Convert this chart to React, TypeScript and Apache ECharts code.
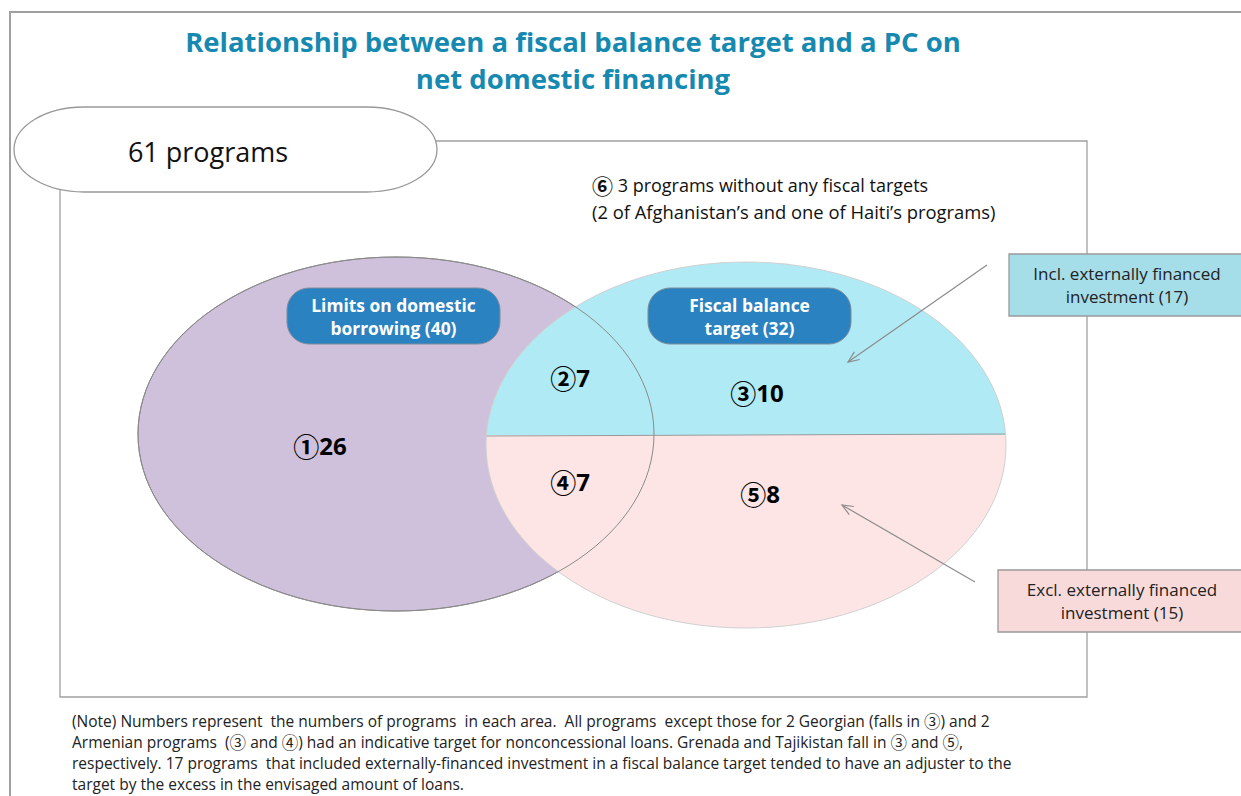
import React, { useEffect, useRef } from "react";
import * as echarts from "echarts";

// ---- data ----
const titleLines = ["Relationship between a fiscal balance target and a PC on", "net domestic financing"];
const totalPrograms = 61;
const regionMarks = ["①", "②", "③", "④", "⑤"];
const regionCounts = [26, 7, 10, 7, 8];
const setNames = ["Limits on domestic\nborrowing", "Fiscal balance\ntarget"];
const setTotals = [40, 32];
const subsetNames = ["Incl. externally financed\ninvestment", "Excl. externally financed\ninvestment"];
const subsetTotals = [17, 15];
const noTargetMark = "⑥";
const noTargetCount = 3;
const noTargetDetail = "(2 of Afghanistan’s and one of Haiti’s programs)";
const noteLines = [
  "(Note) Numbers represent  the numbers of programs  in each area.  All programs  except those for 2 Georgian (falls in ③) and 2",
  "Armenian programs  (③ and ④) had an indicative target for nonconcessional loans. Grenada and Tajikistan fall in ③ and ⑤,",
  "respectively. 17 programs  that included externally-financed investment in a fiscal balance target tended to have an adjuster to the",
  "target by the excess in the envisaged amount of loans.",
];

// ---- geometry (layout only) ----
const LEFT = { cx: 396, cy: 434, rx: 258, ry: 177 };
const RIGHT = { cx: 746, cy: 445, rx: 260, ry: 183 };
const SPLIT_Y = 435;
const PILL = { x1: 14, x2: 437, y1: 107, y2: 192, erx: 70 };

function halfPaths() {
  const { cx, cy, rx, ry } = RIGHT;
  const dy = SPLIT_Y - cy;
  const dx = rx * Math.sqrt(1 - (dy * dy) / (ry * ry));
  const l = cx - dx;
  const r = cx + dx;
  const top = `M${l},${SPLIT_Y} A${rx},${ry} 0 0 1 ${r},${SPLIT_Y} Z`;
  const bottom = `M${l},${SPLIT_Y} A${rx},${ry} 0 1 0 ${r},${SPLIT_Y} Z`;
  return { top, bottom };
}

function pillPath() {
  const { x1, x2, y1, y2, erx } = PILL;
  const ry = (y2 - y1) / 2;
  return `M${x1 + erx},${y1} L${x2 - erx},${y1} A${erx},${ry} 0 0 1 ${x2 - erx},${y2} L${x1 + erx},${y2} A${erx},${ry} 0 0 1 ${x1 + erx},${y1} Z`;
}

let registered = false;
function registerShapes() {
  if (registered) return;
  registered = true;
  const hp = halfPaths();
  echarts.graphic.registerShape("halfTop", echarts.graphic.extendPath(hp.top, {}));
  echarts.graphic.registerShape("halfBottom", echarts.graphic.extendPath(hp.bottom, {}));
  echarts.graphic.registerShape("pill", echarts.graphic.extendPath(pillPath(), {}));
}

function arrow(x1: number, y1: number, x2: number, y2: number) {
  const ang = Math.atan2(y2 - y1, x2 - x1);
  const len = 12;
  const spread = 0.4;
  const a1 = [x2 - len * Math.cos(ang - spread), y2 - len * Math.sin(ang - spread)];
  const a2 = [x2 - len * Math.cos(ang + spread), y2 - len * Math.sin(ang + spread)];
  const st = { stroke: "#8c8c8c", lineWidth: 1.2, fill: null as any };
  return [
    { type: "line", shape: { x1, y1, x2, y2 }, style: st, z: 20 },
    { type: "polyline", shape: { points: [a1, [x2, y2], a2] }, style: st, z: 20 },
  ];
}

const FONT = "'Open Sans', 'Noto Sans', sans-serif";
const CJK = "'Noto Sans CJK JP', 'Noto Sans CJK SC', sans-serif";
const CIRCLED = /([①②③④⑤⑥])/;

function toRich(s: string) {
  return s
    .split(CIRCLED)
    .filter((p) => p.length > 0)
    .map((p) => (CIRCLED.test(p) ? `{c|${p}}` : `{t|${p}}`))
    .join("");
}

function buildOption() {
  const g: any[] = [];
  // outer frame
  g.push({ type: "polyline", shape: { points: [[10, 800], [10, 12], [1245, 12]] }, style: { stroke: "#a0a0a0", lineWidth: 2, fill: null }, z: 1 });
  // inner frame
  g.push({ type: "rect", shape: { x: 60, y: 141, width: 1027, height: 556 }, style: { fill: "#fff", stroke: "#a0a0a0", lineWidth: 1.3 }, z: 2 });
  // pill
  g.push({ type: "pill", x: 0, y: 0, style: { fill: "#fff", stroke: "#999", lineWidth: 1.3 }, z: 3 });
  g.push({ type: "text", x: 208, y: 151, style: { text: `${totalPrograms} programs`, fill: "#111", fontSize: 27, fontFamily: FONT, align: "center", verticalAlign: "middle" }, z: 4 });
  // title
  titleLines.forEach((t, i) => {
    g.push({ type: "text", x: 573, y: 41.5 + i * 37, style: { text: t, fill: "#1689b1", fontSize: 27.5, fontWeight: "bold", fontFamily: FONT, align: "center", verticalAlign: "middle" }, z: 5 });
  });
  // no target note
  g.push({
    type: "text", x: 592, y: 185,
    style: {
      text: `{c|${noTargetMark}}{t| ${noTargetCount} programs without any fiscal targets}`,
      align: "left", verticalAlign: "middle",
      rich: {
        c: { fontSize: 21, fontWeight: "bold", fontFamily: CJK, fill: "#111" },
        t: { fontSize: 18, fontFamily: FONT, fill: "#111" },
      },
    }, z: 5,
  });
  g.push({ type: "text", x: 592, y: 211, style: { text: noTargetDetail, fill: "#111", fontSize: 18.4, fontFamily: FONT, align: "left", verticalAlign: "middle" }, z: 5 });
  // ellipses
  g.push({ type: "ellipse", shape: { cx: LEFT.cx, cy: LEFT.cy, rx: LEFT.rx, ry: LEFT.ry }, style: { fill: "#cfc1db", stroke: "#8a8a8a", lineWidth: 1 }, z: 6 });
  g.push({ type: "halfTop", x: 0, y: 0, style: { fill: "#b0eaf4", stroke: null }, z: 7 });
  g.push({ type: "halfBottom", x: 0, y: 0, style: { fill: "#fde5e6", stroke: null }, z: 7 });
  g.push({ type: "line", shape: { x1: RIGHT.cx - RIGHT.rx, y1: SPLIT_Y + 1, x2: RIGHT.cx + RIGHT.rx, y2: SPLIT_Y - 1 }, style: { stroke: "#9a9a9a", lineWidth: 1 }, z: 8 });
  g.push({ type: "ellipse", shape: { cx: RIGHT.cx, cy: RIGHT.cy, rx: RIGHT.rx, ry: RIGHT.ry }, style: { fill: null, stroke: "#d0d0d0", lineWidth: 1 }, z: 8 });
  g.push({ type: "ellipse", shape: { cx: LEFT.cx, cy: LEFT.cy, rx: LEFT.rx, ry: LEFT.ry }, style: { fill: null, stroke: "#8a8a8a", lineWidth: 1 }, z: 9 });
  // set labels
  const setBoxes = [
    { x: 287, y: 288, w: 213, h: 56 },
    { x: 648, y: 288, w: 203, h: 56 },
  ];
  setBoxes.forEach((b, i) => {
    g.push({ type: "rect", shape: { x: b.x, y: b.y, width: b.w, height: b.h, r: 22 }, style: { fill: "#2a82c0", stroke: "#7f8c99", lineWidth: 1 }, z: 10 });
    g.push({ type: "text", x: b.x + b.w / 2, y: b.y + b.h / 2, style: { text: `${setNames[i]} (${setTotals[i]})`, fill: "#fff", fontSize: 17.4, fontWeight: "bold", fontFamily: FONT, align: "center", verticalAlign: "middle", lineHeight: 23 }, z: 11 });
  });
  // region counts
  const regionPos = [[320, 445], [570, 377], [757, 392], [570, 481], [760, 493]];
  regionCounts.forEach((c, i) => {
    g.push({
      type: "text", x: regionPos[i][0], y: regionPos[i][1],
      style: {
        text: `{c|${regionMarks[i]}}{n|${c}}`,
        align: "center", verticalAlign: "middle",
        rich: {
          c: { fontSize: 26, fontWeight: "bold", fontFamily: CJK, fill: "#000" },
          n: { fontSize: 24, fontWeight: "bold", fontFamily: FONT, fill: "#000" },
        },
      }, z: 12,
    });
  });
  // subset boxes
  const subBoxes = [
    { x: 1009, y: 254, w: 260, h: 62, fill: "#a5dde8", tx: 1127 },
    { x: 998, y: 570, w: 260, h: 62, fill: "#f8dadb", tx: 1122 },
  ];
  subBoxes.forEach((b, i) => {
    g.push({ type: "rect", shape: { x: b.x, y: b.y, width: b.w, height: b.h }, style: { fill: b.fill, stroke: "#9a9a9a", lineWidth: 1.3 }, z: 10 });
    g.push({ type: "text", x: b.tx, y: b.y + b.h / 2, style: { text: `${subsetNames[i]} (${subsetTotals[i]})`, fill: "#222", fontSize: 17, fontFamily: FONT, align: "center", verticalAlign: "middle", lineHeight: 23 }, z: 11 });
  });
  g.push(...arrow(987, 265, 848, 362));
  g.push(...arrow(975, 582, 842, 505));
  // note (single multi-line rich text)
  g.push({
    type: "text", x: 72, y: 752,
    style: {
      text: noteLines.map(toRich).join("\n"), align: "left", verticalAlign: "middle",
      rich: {
        t: { fontSize: 15.5, fontFamily: FONT, fill: "#222", lineHeight: 21 },
        c: { fontSize: 16.5, fontFamily: CJK, fill: "#222", lineHeight: 21 },
      },
    }, z: 5,
  });
  return { animation: false, backgroundColor: "#fff", graphic: { elements: g } };
}

export default function App() {
  const ref = useRef<HTMLDivElement>(null);
  useEffect(() => {
    if (!ref.current) return;
    registerShapes();
    const chart = echarts.init(ref.current, undefined, { renderer: "svg" });
    chart.setOption(buildOption() as any);
    return () => chart.dispose();
  }, []);
  return <div ref={ref} style={{ position: "fixed", left: 0, top: 0, width: 1241, height: 796 }} />;
}
